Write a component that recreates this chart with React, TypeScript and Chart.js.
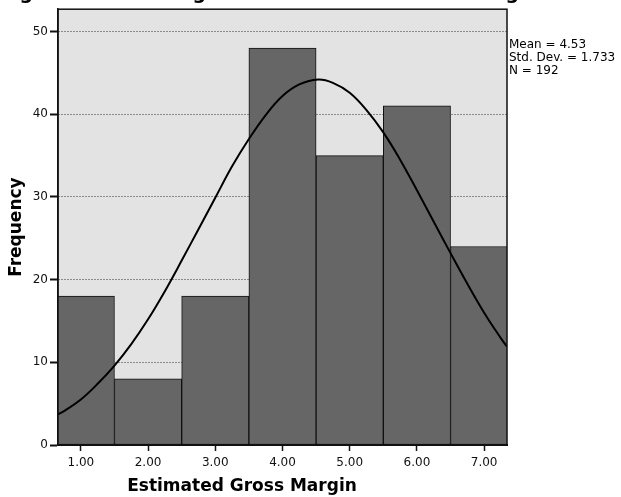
import React, { useEffect, useRef } from "react";
import { Chart, registerables } from "chart.js";

Chart.register(...registerables);

// ---- data ----
const binCenters = [1, 2, 3, 4, 5, 6, 7];
const frequencies = [18, 8, 18, 48, 35, 41, 24];
const xTickValues = [1, 2, 3, 4, 5, 6, 7];
const xTickLabels = ["1.00", "2.00", "3.00", "4.00", "5.00", "6.00", "7.00"];
const yTickValues = [0, 10, 20, 30, 40, 50];
const curveX = [
  0.66, 0.75, 1.0, 1.25, 1.5, 1.75, 2.0, 2.25, 2.5, 2.75, 3.0, 3.25, 3.5, 3.75, 4.0, 4.25,
  4.53, 4.75, 5.0, 5.25, 5.5, 5.75, 6.0, 6.25, 6.5, 6.75, 7.0, 7.25, 7.34,
];
const curveY = [
  3.7, 4.1, 5.5, 7.4, 9.6, 12.2, 15.2, 18.6, 22.3, 26.1, 29.9, 33.7, 37.0, 39.9, 42.2, 43.6,
  44.2, 43.8, 42.6, 40.5, 37.8, 34.5, 30.8, 27.0, 23.2, 19.5, 16.0, 12.9, 11.9,
];
const statsLines = ["Mean = 4.53", "Std. Dev. = 1.733", "N = 192"];
const titleText = "Figure 4.10: Histogram of Estimated Gross Margin";
const xAxisTitle = "Estimated Gross Margin";
const yAxisTitle = "Frequency";
const xRange = [0.66, 7.34];
const yRange = [0, 52.7];

const FONT = '"DejaVu Sans", Verdana, sans-serif';

const decor = {
  id: "decor",
  beforeDraw(chart: any) {
    const { ctx, chartArea: a } = chart;
    ctx.save();
    ctx.fillStyle = "#e3e3e3";
    ctx.fillRect(a.left, a.top, a.right - a.left, a.bottom - a.top);
    ctx.restore();
  },
  afterDatasetsDraw(chart: any) {
    const { ctx, chartArea: a } = chart;
    ctx.save();
    ctx.strokeStyle = "#111";
    ctx.lineWidth = 1.5;
    ctx.strokeRect(a.left, a.top, a.right - a.left, a.bottom - a.top);
    ctx.restore();
  },
  afterDraw(chart: any) {
    const { ctx, chartArea: a } = chart;
    ctx.save();
    ctx.fillStyle = "#000";
    ctx.font = `bold 19px ${FONT}`;
    ctx.textAlign = "left";
    ctx.textBaseline = "alphabetic";
    ctx.fillText(titleText, 0, -1);
    ctx.font = `12px ${FONT}`;
    statsLines.forEach((t, i) => {
      ctx.fillText(t, a.right + 2, 48 + i * 13);
    });
    ctx.font = `bold 17px ${FONT}`;
    ctx.textAlign = "center";
    ctx.textBaseline = "middle";
    ctx.fillText(xAxisTitle, 242, 487);
    ctx.restore();
  },
};

export default function App() {
  const ref = useRef<HTMLCanvasElement | null>(null);

  useEffect(() => {
    if (!ref.current) return;
    Chart.defaults.font.family = FONT;
    const chart = new Chart(ref.current, {
      type: "bar",
      data: {
        datasets: [
          {
            type: "line",
            data: curveX.map((x, i) => ({ x, y: curveY[i] })),
            borderColor: "#000",
            borderWidth: 2,
            pointRadius: 0,
            tension: 0.4,
            fill: false,
            order: 0,
          } as any,
          {
            type: "bar",
            data: binCenters.map((x, i) => ({ x, y: frequencies[i] })),
            backgroundColor: "#666666",
            borderColor: "#111",
            borderWidth: 1,
            borderSkipped: false,
            barPercentage: 1,
            categoryPercentage: 1,
            clip: 0,
            order: 1,
          } as any,
        ],
      },
      options: {
        responsive: false,
        animation: false,
        devicePixelRatio: 1,
        layout: { padding: { top: 6, right: 114, left: 0, bottom: 0 } },
        plugins: {
          legend: { display: false },
          tooltip: { enabled: false },
          title: { display: false },
        },
        scales: {
          x: {
            type: "linear",
            min: xRange[0],
            max: xRange[1],
            offset: false,
            afterFit(scale: any) {
              scale.height = 52;
            },
            afterBuildTicks(scale: any) {
              scale.ticks = xTickValues.map((v) => ({ value: v }));
            },
            ticks: {
              font: { size: 12 },
              color: "#111",
              padding: 5,
              maxRotation: 0,
              autoSkip: false,
              callback: (v: any) => {
                const i = xTickValues.indexOf(Number(v));
                return i >= 0 ? xTickLabels[i] : "";
              },
            },
            grid: {
              offset: false,
              drawOnChartArea: false,
              tickLength: 6,
              tickColor: "#111",
              tickWidth: 1.5,
            },
            border: { display: true, color: "#111", width: 2 },
            title: { display: false },
          },
          y: {
            type: "linear",
            min: yRange[0],
            max: yRange[1],
            afterFit(scale: any) {
              scale.width = 58;
            },
            afterBuildTicks(scale: any) {
              scale.ticks = yTickValues.map((v) => ({ value: v }));
            },
            ticks: {
              font: { size: 12 },
              color: "#111",
              padding: 2,
              callback: (v: any) => String(v),
            },
            grid: {
              color: "#333",
              lineWidth: 1,
              tickLength: 8,
              tickColor: "#111",
              tickWidth: 2,
              tickBorderDash: [],
            },
            border: { display: true, color: "#111", width: 1.5, dash: [1, 2] },
            title: {
              display: true,
              text: yAxisTitle,
              font: { size: 17, weight: "bold" },
              color: "#000",
              padding: { top: 6, bottom: 0 },
            },
          },
        },
      },
      plugins: [decor],
    } as any);
    return () => chart.destroy();
  }, []);

  return (
    <div style={{ position: "absolute", left: 0, top: 0, width: 621, height: 497 }}>
      <canvas ref={ref} width={621} height={497} style={{ display: "block" }} />
    </div>
  );
}
